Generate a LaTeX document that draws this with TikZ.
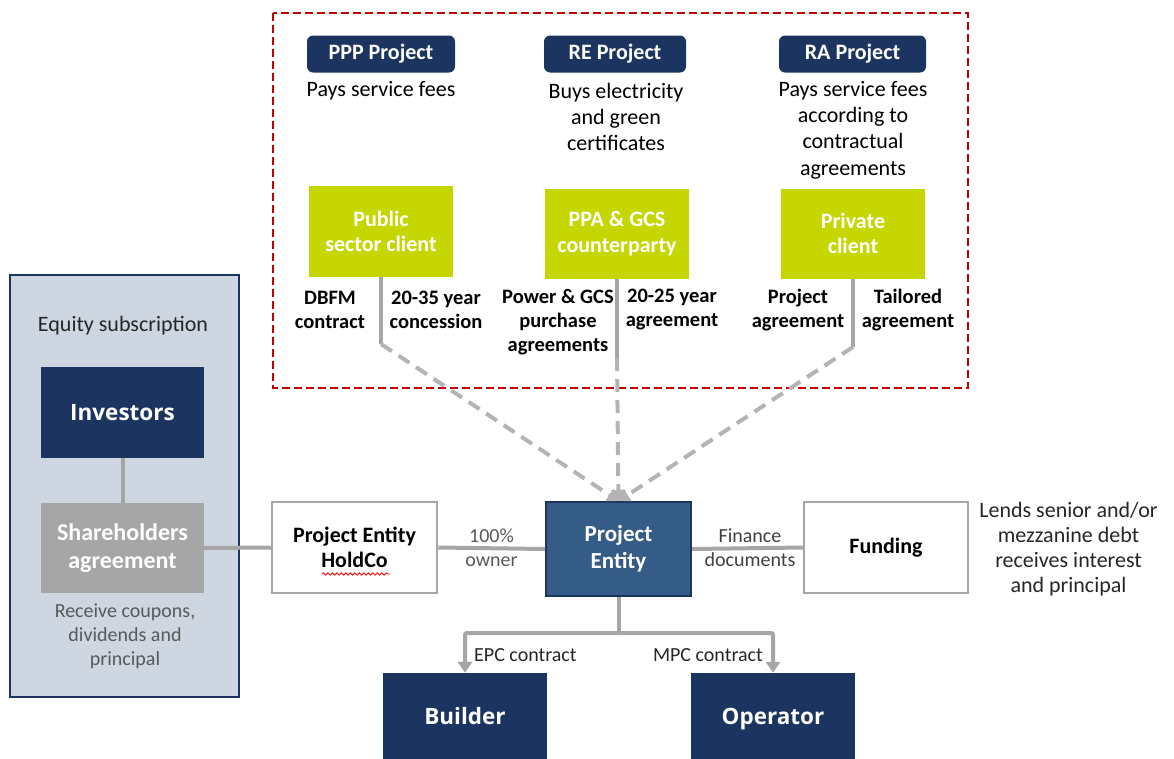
\documentclass[tikz,border=0pt]{standalone}
\usepackage{fontspec}
\setmainfont{Carlito}
\newfontfamily\osans{Open Sans}
\usetikzlibrary{arrows.meta,decorations.pathmorphing}
\definecolor{navy}{HTML}{1C3560}
\definecolor{peblue}{HTML}{345C87}
\definecolor{lime}{HTML}{C5D600}
\definecolor{lgray}{HTML}{A6A6A6}
\definecolor{dgray}{HTML}{B4B4B4}
\definecolor{panelc}{HTML}{CDD6E1}
\definecolor{redd}{HTML}{C00000}
\definecolor{txtgray}{HTML}{595959}
\tikzset{
  pill/.style={fill=navy, rounded corners=6pt, text=white, inner sep=0pt,
    font=\fontsize{22}{24}\selectfont\bfseries, minimum height=37pt},
  greenbox/.style={fill=lime, text=white, inner sep=0pt, align=center,
    minimum width=144pt, minimum height=90pt,
    font=\fontsize{22}{25.5}\selectfont\bfseries},
  navybox/.style={fill=navy, text=white, inner sep=0pt, minimum width=163pt,
    font=\osans\fontsize{22.5}{26}\selectfont\bfseries},
  bnavy/.style={navybox, minimum width=164pt, minimum height=86pt,
    text height=17pt, text depth=0pt},
  whitebox/.style={draw=lgray, line width=2.5pt, fill=white, inner sep=0pt,
    align=center, minimum height=91pt, minimum width=164pt,
    font=\fontsize{22}{24.5}\selectfont\bfseries},
  desc/.style={align=center, inner sep=0pt, font=\fontsize{22}{26.3}\selectfont},
  blab/.style={align=center, inner sep=0pt, font=\fontsize{20.5}{24}\selectfont\bfseries},
  glab/.style={align=center, inner sep=0pt, text=txtgray, font=\fontsize{20}{24}\selectfont},
  conn/.style={draw=lgray, line width=4pt},
  dconn/.style={draw=dgray, line width=4pt, dash pattern=on 13pt off 8pt},
  tip/.style={-{Triangle[length=11pt,width=14pt]}}
}
\begin{document}
\begin{tikzpicture}[x=1pt,y=-1pt]
\useasboundingbox (0,0) rectangle (1174,758);

% red dashed frame
\draw[redd, line width=2.5pt, dash pattern=on 8pt off 4pt] (273,13) rectangle (968,388);

% left panel
\node[draw=navy, line width=2pt, fill=panelc, minimum width=229pt, minimum height=422pt, inner sep=0pt] (panel) at (124.5,486) {};
\node[desc, text=black!85] (equity) at (123,326) {Equity subscription};
\node[navybox, minimum height=91pt] (inv) at (122.5,412.5) {Investors};
\node[fill=lgray, text=white, inner sep=0pt, align=center, minimum width=163pt, minimum height=90pt,
  font=\fontsize{24}{28}\selectfont\bfseries] (sha) at (122.5,548) {Shareholders\\agreement};
\node[glab] (recv) at (125,636.5) {Receive coupons,\\dividends and\\principal};

% top project pills
\node[pill, minimum width=148pt] (ppp) at (381,54) {PPP Project};
\node[pill, minimum width=142pt] (re) at (615,54) {RE Project};
\node[pill, minimum width=147pt] (ra) at (852.5,54) {RA Project};

\node[desc] (d1) at (381,91) {Pays service fees};
\node[desc] (d2) at (616,117) {Buys electricity\\and green\\certificates};
\node[desc] (d3) at (853,130) {Pays service fees\\according to\\contractual\\agreements};

% green boxes
\node[greenbox, minimum height=91pt] (pub) at (381,231.5) {Public\\sector client};
\node[greenbox] (ppa) at (617,233.5) {PPA \& GCS\\counterparty};
\node[greenbox] (priv) at (853,233.5) {Private\\client};

% contract labels
\node[blab] (l1) at (330,310) {DBFM\\contract};
\node[blab] (l2) at (436,310) {20-35 year\\concession};
\node[blab] (l3) at (558,322) {Power \& GCS\\purchase\\agreements};
\node[blab] (l4) at (672,310) {20-25 year\\agreement};
\node[blab] (l5) at (798,310) {Project\\agreement};
\node[blab] (l6) at (908,310) {Tailored\\agreement};

% middle row
\node[whitebox, minimum width=165pt] (hold) at (354.5,547.5) {Project Entity\\HoldCo};
\node[fill=peblue, draw=navy, line width=2pt, text=white, inner sep=0pt, align=center,
  minimum width=145pt, minimum height=94pt, font=\fontsize{23}{27}\selectfont\bfseries] (pe) at (618.5,549) {Project\\Entity};
\node[whitebox] (fund) at (886,547.5) {Funding};
\node[glab] (own) at (491.5,548) {100\%\\owner};
\node[glab, text=black!75] (fin) at (750,548) {Finance\\documents};
\node[desc, font=\fontsize{22}{25}\selectfont, text=black!85] (lends) at (1068.5,549.5) {Lends senior and/or\\mezzanine debt\\receives interest\\and principal};

% spell-check underline
\draw[red, line width=0.8pt, decorate, decoration={snake, amplitude=1.2pt, segment length=4.5pt}] (322,574) -- (390,574);

% bottom boxes
\node[bnavy] (bld) at (465,716) {Builder};
\node[bnavy] (opr) at (773,716) {Operator};
\node[glab, text=black!85, anchor=west] (epc) at (474,655) {EPC contract};
\node[glab, text=black!85, anchor=east] (mpc) at (763,655) {MPC contract};

% coordinates
\coordinate (c1) at (381,344);
\coordinate (c2) at (617,358);
\coordinate (c3) at (853,347);
\coordinate (j) at (618.5,633);

% connectors top
\draw[conn] (pub.south) -- (c1);
\draw[conn] (ppa.south) -- (c2);
\draw[conn] (priv.south) -- (c3);
\draw[dconn, tip] (c1) -- (pe.north);
\draw[dconn, tip] (c2) -- (pe.north);
\draw[dconn, tip] (c3) -- (pe.north);

% left connectors
\draw[conn] (inv.south) -- (sha.north);
\draw[conn] (sha.east) -- (hold.west);
\draw[conn] (hold.east) -- (pe.west);
\draw[conn] (pe.east) -- (fund.west);

% bottom connectors
\draw[conn] (pe.south) -- (j);
\draw[conn, tip, rounded corners=2pt] (j) -| (bld.north);
\draw[conn, tip, rounded corners=2pt] (j) -| (opr.north);
\end{tikzpicture}
\end{document}
